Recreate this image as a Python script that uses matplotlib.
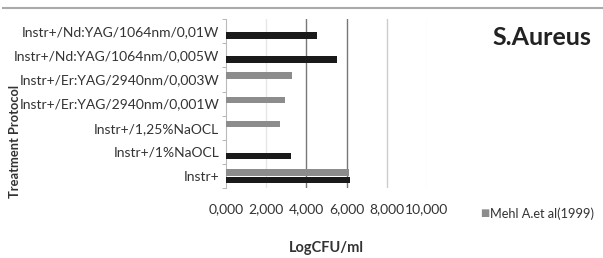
import numpy as np
import matplotlib.pyplot as plt
from matplotlib.lines import Line2D

plt.rcParams['font.family'] = ['Lato', 'DejaVu Sans']

# data (bottom to top)
protocols = ['Instr+', 'Instr+/1%NaOCL', 'Instr+/1,25%NaOCL',
             'Instr+/Er:YAG/2940nm/0,001W', 'Instr+/Er:YAG/2940nm/0,003W',
             'Instr+/Nd:YAG/1064nm/0,005W', 'Instr+/Nd:YAG/1064nm/0,01W']
mehl = [6.10, 0, 2.70, 2.95, 3.30, 0, 0]
other = [6.15, 3.25, 0, 0, 0, 5.50, 4.55]
xticks = [0, 2, 4, 6, 8, 10]
xtick_labels = ['0,000', '2,000', '4,000', '6,000', '8,000', '10,000']

fig = plt.figure(figsize=(6.03, 2.58), dpi=100)
ax = fig.add_axes([0.375, 0.271, 0.333, 0.655])

y = np.arange(len(protocols))
ax.barh(y + 0.15, mehl, height=0.28, color='#8c8c8c', zorder=3)
ax.barh(y - 0.17, other, height=0.28, color='#1a1a1a', zorder=3)

ax.set_xlim(0, 10)
ax.set_ylim(-0.5, len(protocols) - 0.5)
ax.set_xticks(xticks)
ax.set_xticklabels(xtick_labels, fontsize=10, color='#333333')
ax.tick_params(axis='x', length=0, pad=11)
ax.set_yticks(np.arange(len(protocols) + 1) - 0.5, minor=True)
ax.set_yticks(y)
ax.set_yticklabels(protocols, fontsize=10, color='#333333')
ax.tick_params(axis='y', which='major', length=0, pad=5)
ax.tick_params(axis='y', which='minor', length=3, color='#aaaaaa', direction='out')

for s in ['top', 'right', 'bottom']:
    ax.spines[s].set_visible(False)
ax.spines['left'].set_color('#bbbbbb')

# grid lines
grid_colors = {2: '#e6e6e6', 4: '#777777', 6: '#777777', 8: '#cccccc', 10: '#f0f0f0'}
for xv, c in grid_colors.items():
    ax.axvline(xv, color=c, lw=1, zorder=1)

fig.text(0.541, 0.039, 'LogCFU/ml', fontsize=10.5, fontweight='bold',
         color='#333333', ha='center', va='center')
fig.text(0.025, 0.453, 'Treatment Protocol', rotation=90, fontsize=9.3,
         fontweight='bold', color='#333333', ha='center', va='center')

fig.text(0.899, 0.853, 'S.Aureus', fontsize=18, fontweight='bold',
         color='#222222', ha='center', va='center')

# legend
fig.text(0.797, 0.172, '\u25a0', fontsize=7, color='#8c8c8c', va='center')
fig.text(0.813, 0.172, 'Mehl A.et al(1999)', fontsize=9.2, color='#333333', va='center')

# chart border line at top
fig.add_artist(Line2D([0.005, 1.0], [0.969, 0.969], color='#aaaaaa', lw=1.5))

fig.savefig('out.png', dpi=100)
